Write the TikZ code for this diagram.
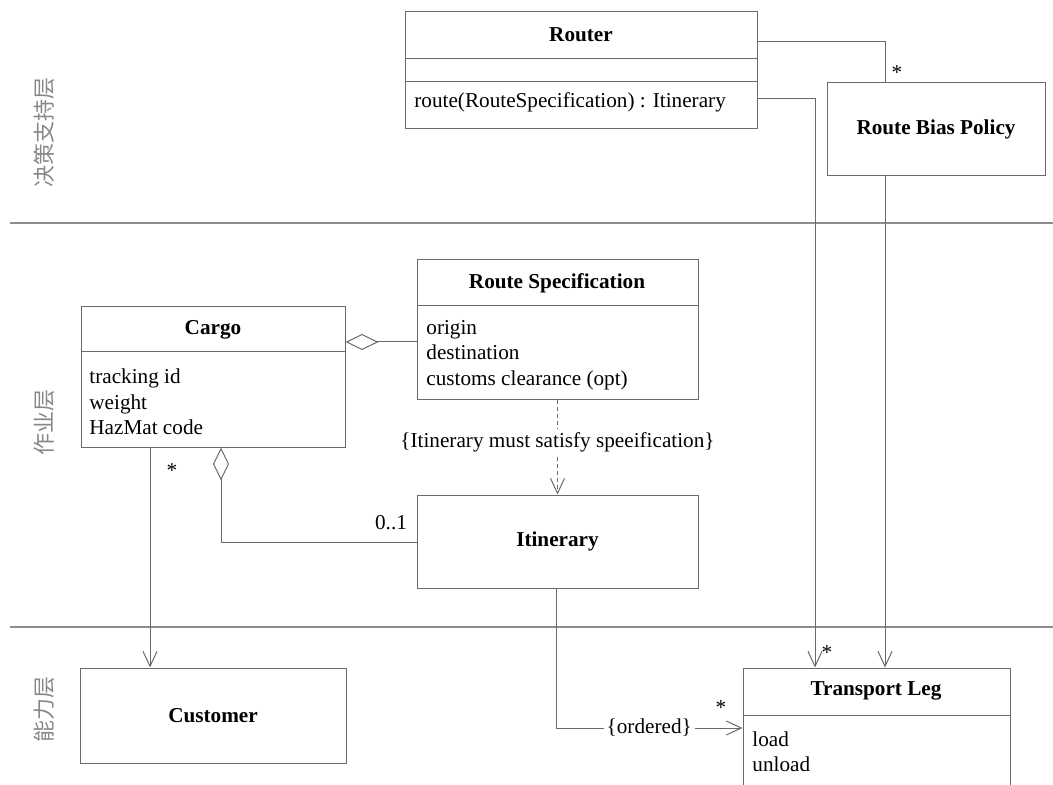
\documentclass[tikz,border=0pt]{standalone}
\usepackage{fontspec}
\setmainfont{Liberation Serif}
\newfontfamily\cjk{Noto Sans CJK SC}
\usetikzlibrary{arrows.meta, fit}
\definecolor{LineG}{HTML}{6A6A6A}
\definecolor{LayerG}{HTML}{8C8C8C}
\definecolor{LabelG}{HTML}{888888}

\begin{document}
\begin{tikzpicture}[
  x=0.5pt, y=-0.5pt,
  font=\fontsize{10.6pt}{12.7pt}\selectfont,
  cls/.style={draw=LineG, line width=0.5pt, inner sep=0pt, fill=white},
  ttl/.style={font=\fontsize{10.6pt}{12.7pt}\selectfont\bfseries, inner sep=1pt},
  attrs/.style={align=left, anchor=west, inner sep=1pt},
  mult/.style={inner sep=1pt},
  layer/.style={draw=LayerG, line width=1.4pt},
  layerlab/.style={rotate=90, text=LabelG, font=\cjk\fontsize{11pt}{13pt}\selectfont},
  line/.style={draw=LineG, line width=0.5pt},
  nav/.style={line, -{Straight Barb[length=7.5pt, width=7pt]}},
  aggr/.style={line, {Diamond[open, length=16.5pt, width=8pt]}-},
  dep/.style={nav, dash pattern=on 2pt off 1.5pt},
  lab/.style={fill=white, inner sep=1.5pt}]
\clip (0,0) rectangle (1053,785);
\useasboundingbox (0,0) rectangle (1053,785);

% layers
\draw[layer] (10,223) -- (1053,223);
\draw[layer] (10,627) -- (1053,627);
\node[layerlab] (Ldecide) at (44,133) {决策支持层};
\node[layerlab] (Lop) at (44,422) {作业层};
\node[layerlab] (Lcap) at (44,709) {能力层};

% decision support
\node[cls, fit={(405,12) (757,129)}] (Router) {};
\draw[line] (Router.west |- 0,59) -- (Router.east |- 0,59);
\draw[line] (Router.west |- 0,82) -- (Router.east |- 0,82);
\node[ttl] (RouterT) at (581,35) {Router};
\node[attrs] (RouterOp) at (412,102) {route(RouteSpecification) : Itinerary};

\node[cls, fit={(827,83) (1045,176)}] (RBP) {};
\node[ttl] (RBPT) at (RBP.center) {Route Bias Policy};

% operations
\node[cls, fit={(81,307) (345,447)}] (Cargo) {};
\draw[line] (Cargo.west |- 0,352) -- (Cargo.east |- 0,352);
\node[ttl] (CargoT) at (213,330) {Cargo};
\node[attrs] (CargoA) at (87,402) {tracking id\\weight\\HazMat code};

\node[cls, fit={(417,260) (698,400)}] (RS) {};
\draw[line] (RS.west |- 0,306) -- (RS.east |- 0,306);
\node[ttl] (RST) at (557,283) {Route Specification};
\node[attrs] (RSA) at (424,355) {origin\\destination\\customs clearance (opt)};

\node[cls, fit={(417,495) (698,588)}] (Itin) {};
\node[ttl] (ItinT) at (Itin.center) {Itinerary};

% capability
\node[cls, fit={(80,668) (346,763)}] (Customer) {};
\node[ttl] (CustomerT) at (Customer.center) {Customer};

\node[cls, fit={(743,668) (1010,830)}] (TL) {};
\draw[line] (TL.west |- 0,715) -- (TL.east |- 0,715);
\node[ttl] (TLT) at (876,691) {Transport Leg};
\node[attrs] (TLA) at (750,752) {load\\unload};

% connectors
\draw[line] (Router.east |- 0,42) -| (RBP.north -| 885,0);
\node[mult] (m1) at (897,73) {*};
\draw[nav] (Router.east |- 0,99) -| (TL.north -| 815,0);
\node[mult] (m2) at (827,653) {*};
\draw[nav] (RBP.south -| 885,0) -- (TL.north -| 885,0);

\draw[aggr] (Cargo.east |- 0,342) -- (RS.west |- 0,342);
\draw[aggr] (Cargo.south -| 221,0) |- (Itin.west |- 0,542);
\node[mult] (m3) at (391,523) {0..1};

\draw[nav] (Cargo.south -| 150,0) -- (Customer.north -| 150,0);
\node[mult] (m4) at (172,471) {*};

\draw[dep] (RS.south) -- node[lab, pos=0.44] {\{Itinerary must satisfy speeification\}} (Itin.north);

\draw[nav] (Itin.south -| 556,0) |- node[lab, pos=0.75] {\{ordered\}} (TL.west |- 0,728);
\node[mult] (m5) at (721,708) {*};
\end{tikzpicture}
\end{document}
